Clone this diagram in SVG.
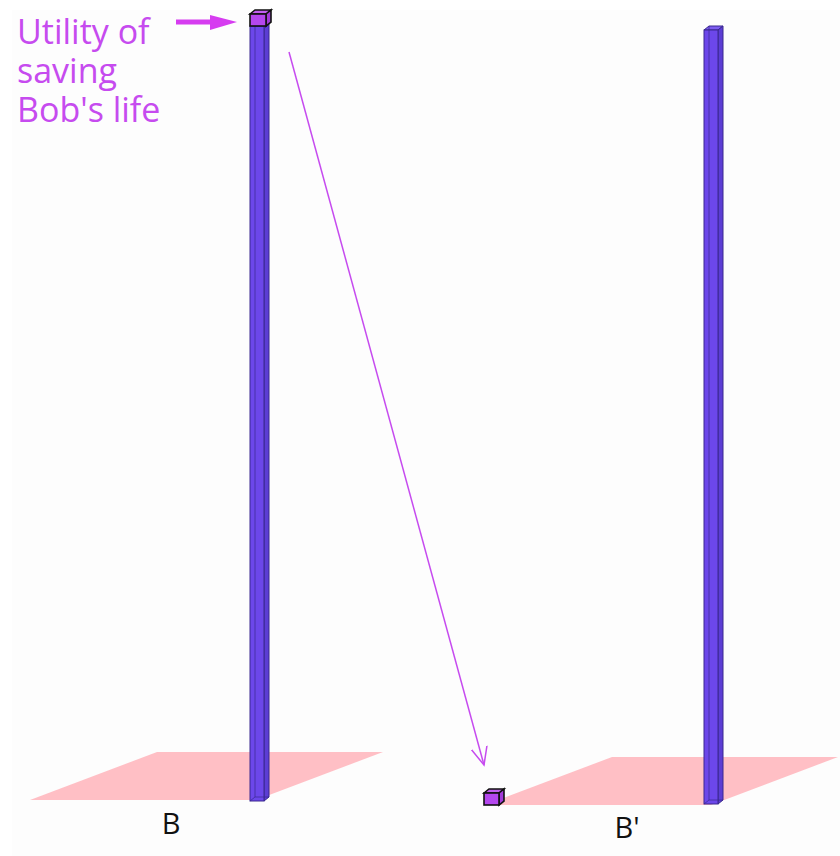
<svg xmlns="http://www.w3.org/2000/svg" width="840" height="856" viewBox="0 0 840 856">
<defs>
<style>
.lbl{font-family:"Open Sans","Liberation Sans",sans-serif;fill:#111;font-size:29px}
.mag{font-family:"Open Sans","Liberation Sans",sans-serif;fill:#c64bef;font-size:34px}
.plane{fill:#ffbfc5}
.barf{fill:#6c47ea;stroke:#3a2890;stroke-width:1}
.bars{fill:#5c3dd4;stroke:#3a2890;stroke-width:1}
.bart{fill:#7d5cf0;stroke:#3a2890;stroke-width:1}
.bedge{fill:none;stroke:#3a2890;stroke-width:1;opacity:0.7}
.cubef{fill:#b447ee;stroke:#111;stroke-width:1.6}
.cubes{fill:#a23ad8;stroke:#111;stroke-width:1.6}
.cubet{fill:#c25ff0;stroke:#111;stroke-width:1.6}
</style>
<marker id="vhead" viewBox="0 0 20 20" refX="18" refY="10" markerWidth="20" markerHeight="20" markerUnits="userSpaceOnUse" orient="auto">
<path d="M0,2 L18,10 L0,18" fill="none" stroke="#c64bef" stroke-width="1.5"/>
</marker>
</defs>
<rect x="0" y="0" width="840" height="856" fill="#ffffff"/>
<rect x="12" y="10" width="828" height="846" fill="#fdfdfd"/>
<g id="plane-B">
<polygon class="plane" points="30,800 157,752 383,752 256,800"/>
</g>
<g id="plane-Bp">
<polygon class="plane" points="485,805 612,757 838,757 711,805"/>
</g>
<g id="bar-B">
<polygon class="bart" points="250,26 255,22 269,22 264,26"/>
<polygon class="bars" points="264,26 269,22 269,797 264,801"/>
<rect class="barf" x="250" y="26" width="14" height="775"/>
<line class="bedge" x1="255" y1="22" x2="255" y2="797"/>
<line class="bedge" x1="255" y1="797" x2="269" y2="797"/>
<line class="bedge" x1="250" y1="801" x2="255" y2="797"/>
</g>
<g id="cube-top">
<polygon class="cubet" points="250,14 255,10 271,10 266,14"/>
<polygon class="cubes" points="266,14 271,10 271,22 266,26"/>
<rect class="cubef" x="250" y="14" width="16" height="12"/>
</g>
<g id="bar-Bp">
<polygon class="bart" points="704,30 709,26 723,26 718,30"/>
<polygon class="bars" points="718,30 723,26 723,800 718,804"/>
<rect class="barf" x="704" y="30" width="14" height="774"/>
<line class="bedge" x1="709" y1="26" x2="709" y2="800"/>
<line class="bedge" x1="709" y1="800" x2="723" y2="800"/>
<line class="bedge" x1="704" y1="804" x2="709" y2="800"/>
</g>
<g id="cube-small">
<polygon class="cubet" points="484,793 489,789 504,789 499,793"/>
<polygon class="cubes" points="499,793 504,789 504,801 499,805"/>
<rect class="cubef" x="484" y="793" width="15" height="12"/>
</g>
<g id="label-utility">
<text class="mag"><tspan x="17" y="44">Utility of</tspan><tspan x="17" y="83">saving</tspan><tspan x="17" y="122">Bob's life</tspan></text>
</g>
<g id="label-B"><text class="lbl" x="171" y="834" text-anchor="middle">B</text></g>
<g id="label-Bp"><text class="lbl" x="627" y="838" text-anchor="middle">B'</text></g>
<g id="connectors">
<line x1="176" y1="22" x2="214" y2="22" stroke="#d63cf0" stroke-width="5"/>
<polygon points="210,15 237,22 210,30" fill="#d63cf0"/>
<line x1="289" y1="52" x2="484" y2="765" stroke="#c64bef" stroke-width="1.5" marker-end="url(#vhead)"/>
</g>
</svg>
